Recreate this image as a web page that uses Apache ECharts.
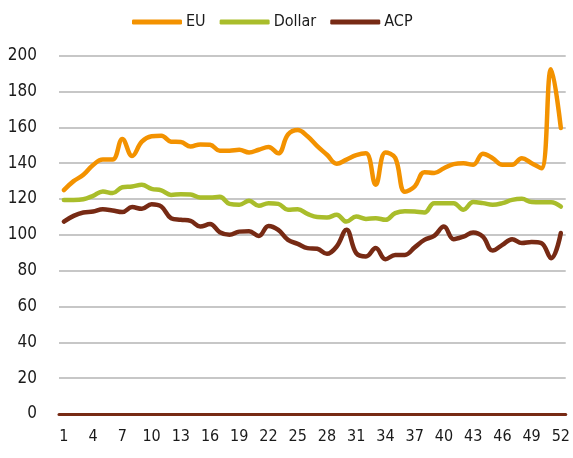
<!DOCTYPE html>
<html>
<head>
<meta charset="utf-8">
<script src="https://cdn.jsdelivr.net/npm/echarts@6/dist/echarts.min.js"></script>
<style>
  html, body { margin: 0; padding: 0; background: #ffffff; }
  #chart { width: 573px; height: 458px; }
</style>
</head>
<body>
<div id="chart"></div>
<script>
// Week numbers 1..52
const weeks = ['1','2','3','4','5','6','7','8','9','10','11','12','13','14','15','16','17','18','19','20',
  '21','22','23','24','25','26','27','28','29','30','31','32','33','34','35','36','37','38','39','40',
  '41','42','43','44','45','46','47','48','49','50','51','52'];

const euValues = [125, 130, 133.5, 139, 142, 142, 153.5, 144, 152, 155,
  155.3, 152, 151.8, 149.3, 150.5, 150.3, 147, 147, 147.5, 146,
  147.5, 149, 145.5, 156, 158.5, 155, 149.5, 144.7, 139.7, 142,
  144.5, 145.5, 128, 146, 143, 124, 127, 135, 134.5, 137.2,
  139.5, 140, 139.1, 145.3, 142.8, 139.1, 139.1, 142.8, 140, 137.2,
  192.5, 159.6];

const dollarValues = [119.5, 119.5, 119.9, 121.8, 124.2, 123.3, 126.6, 127, 127.9, 125.7,
  124.8, 122.3, 122.7, 122.5, 120.8, 120.8, 121.2, 117.3, 116.8, 119,
  116.2, 117.7, 117.3, 114, 114.3, 111.7, 109.9, 109.7, 111.2, 107.4,
  110.2, 108.9, 109.3, 108.4, 112.1, 113.2, 113, 112.5, 117.7, 117.7,
  117.7, 114, 118.3, 117.7, 116.8, 117.7, 119.5, 120.1, 118.3, 118.2,
  118.2, 115.8];

const acpValues = [107.4, 110.6, 112.5, 113, 114.3, 113.6, 112.7, 115.5, 114.5, 117.1,
  115.8, 109.3, 108.4, 107.8, 104.6, 106, 101.5, 100, 101.8, 102,
  99.4, 105, 102.8, 97.2, 95, 92.6, 92.2, 89.4, 93.5, 102.8,
  89.8, 87.9, 92.6, 86.4, 88.8, 88.8, 93, 97.2, 99.4, 104.6,
  97.6, 99, 101.3, 99, 91.2, 94.4, 97.6, 95.4, 96, 95.4,
  87, 101];

const yTicks = { min: 0, max: 200, step: 20 };

const colors = { eu: '#f39200', dollar: '#a9bd2b', acp: '#772a14' };
const font = '"DejaVu Sans Condensed", "Liberation Sans Narrow", sans-serif';

const chart = echarts.init(document.getElementById('chart'), null, { renderer: 'canvas' });

function lineSeries(name, data, color) {
  return {
    name: name,
    type: 'line',
    data: data,
    smooth: 0.4,
    showSymbol: false,
    symbol: 'none',
    color: color,
    lineStyle: { color: color, width: 4.5, cap: 'round', join: 'round' },
    animation: false
  };
}

chart.setOption({
  animation: false,
  backgroundColor: '#ffffff',
  legend: {
    top: 9,
    left: 127,
    icon: 'roundRect',
    itemWidth: 50,
    itemHeight: 5,
    itemGap: 14,
    textStyle: { fontFamily: font, fontSize: 16, color: '#1a1a1a', padding: [0, 0, 0, -1] },
    data: ['EU', 'Dollar', 'ACP']
  },
  grid: { left: 59, right: 7, top: 55.7, bottom: 44, containLabel: false },
  xAxis: {
    type: 'category',
    data: weeks,
    boundaryGap: true,
    axisLine: { show: true, lineStyle: { color: colors.acp, width: 3 } },
    axisTick: { show: false },
    axisLabel: { interval: 2, fontFamily: font, fontSize: 16, color: '#1a1a1a', margin: 15 },
    splitLine: { show: false }
  },
  yAxis: {
    type: 'value',
    min: yTicks.min,
    max: yTicks.max,
    interval: yTicks.step,
    axisLine: { show: false },
    axisTick: { show: false },
    axisLabel: { fontFamily: font, fontSize: 17, color: '#1a1a1a', margin: 22 },
    splitLine: { show: true, lineStyle: { color: '#b5b5b5', width: 1.5 } }
  },
  series: [
    lineSeries('EU', euValues, colors.eu),
    lineSeries('Dollar', dollarValues, colors.dollar),
    lineSeries('ACP', acpValues, colors.acp)
  ]
});
</script>
</body>
</html>
